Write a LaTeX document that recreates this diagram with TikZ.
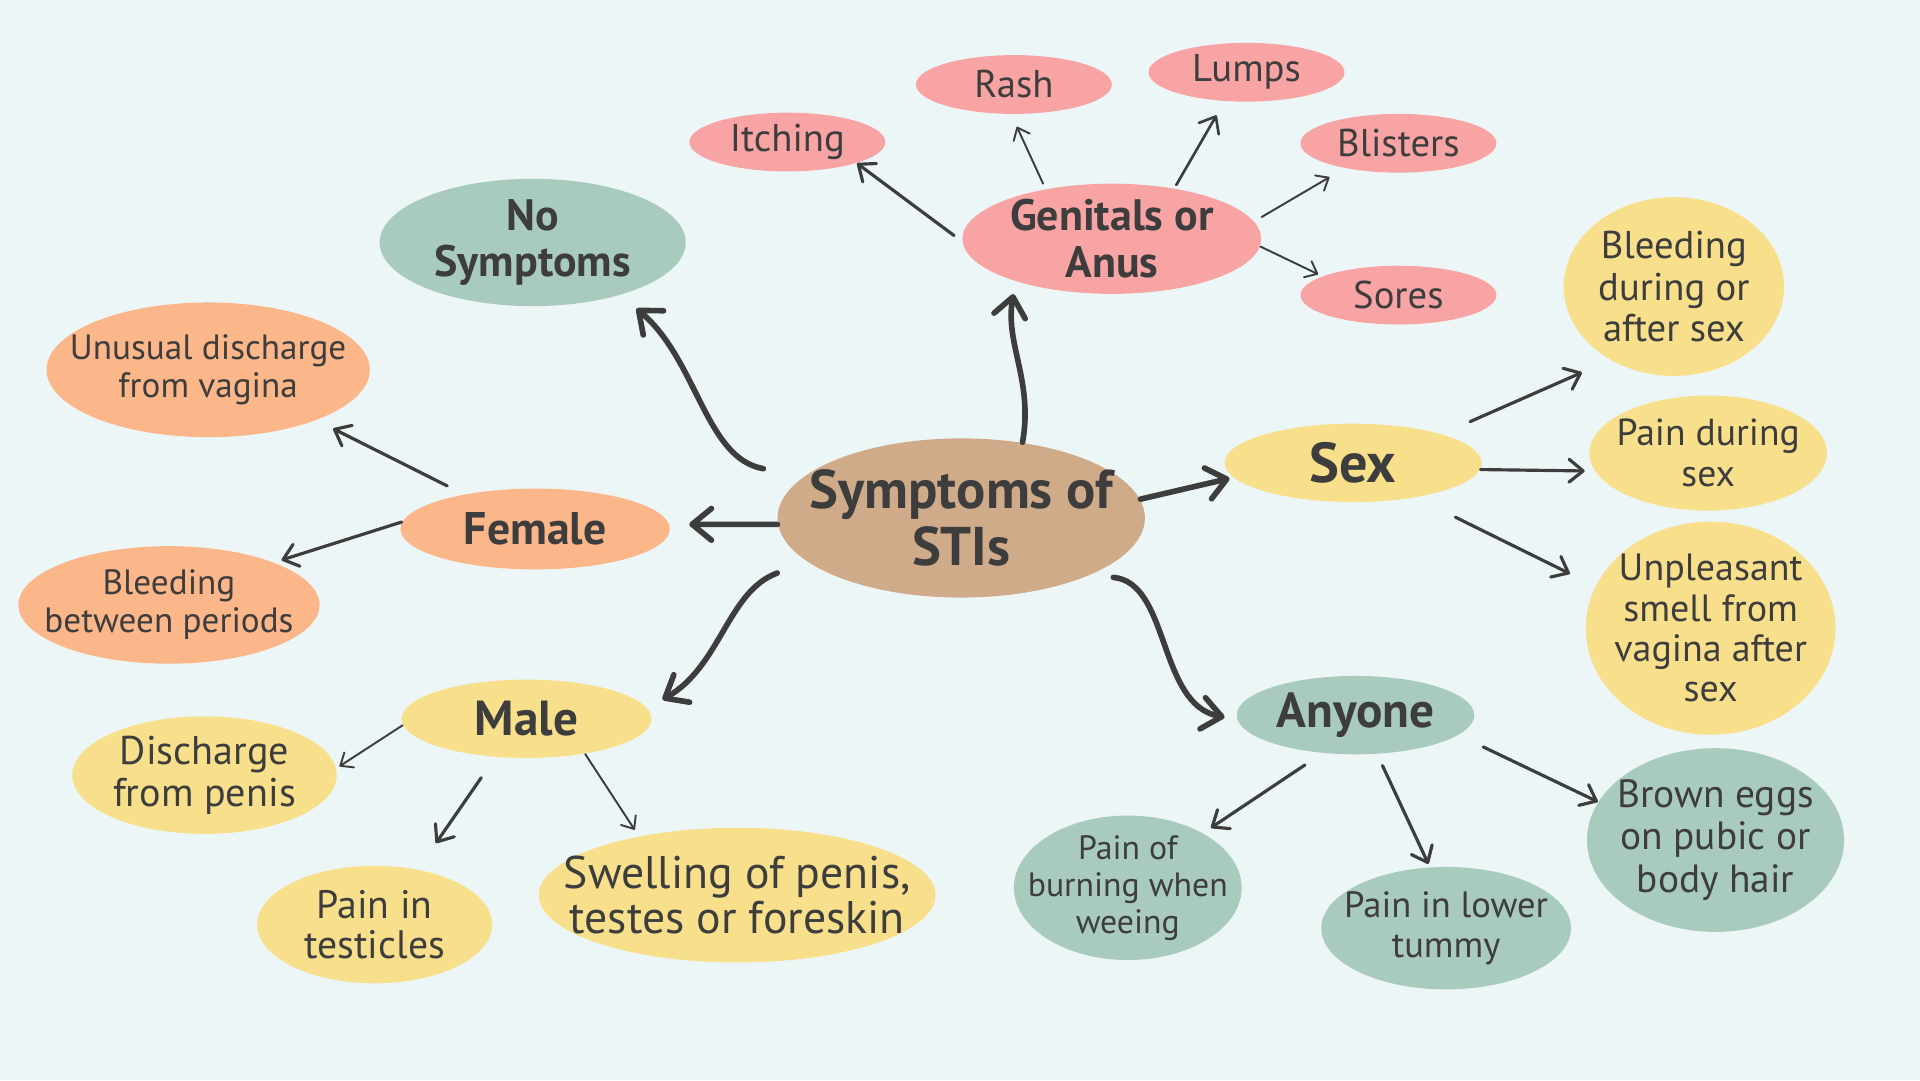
\documentclass[tikz,border=0pt]{standalone}
\usepackage{fontspec}
\setmainfont{PT Sans}
\usetikzlibrary{shapes.geometric,arrows.meta}
\definecolor{bgcol}{HTML}{ECF6F6}
\definecolor{tancol}{HTML}{D0AB8A}
\definecolor{greencol}{HTML}{A9CBBD}
\definecolor{pinkcol}{HTML}{F8A4A5}
\definecolor{yellowcol}{HTML}{F8DF8C}
\definecolor{orangecol}{HTML}{FBB68A}
\definecolor{inkcol}{HTML}{3D3D3D}
\tikzset{blob/.style 2 args={ellipse, inner sep=-2em, align=center, text=inkcol,
  minimum width=#1*0.012245cm, minimum height=#2*0.012245cm}}
\tikzstyle{mainarrow}=[draw=inkcol, line width=1.6pt, line cap=round, -{Straight Barb[length=5.5pt,width=9pt,round]}]
\tikzstyle{leafarrow}=[draw=inkcol, line width=0.9pt, line cap=round, -{Straight Barb[length=4pt,width=6.5pt,round]}]
\tikzstyle{thinarrow}=[draw=inkcol, line width=0.55pt, line cap=round, -{Straight Barb[length=3pt,width=5pt,round]}]
\tikzstyle{hubfont}=[font=\bfseries\fontsize{15.5}{16}\selectfont]
\tikzstyle{catfont}=[font=\bfseries\fontsize{14}{16}\selectfont]
\tikzstyle{subfont}=[font=\bfseries\fontsize{12.5}{13.2}\selectfont]

\begin{document}
\begin{tikzpicture}[x=0.012245cm, y=-0.012245cm]
\fill[bgcol] (0,0) rectangle (1568,882);
\useasboundingbox (0,0) rectangle (1568,882);

\node[blob={300}{130}, fill=tancol, hubfont] (stis) at (785,423) {Symptoms of\\STIs};
\node[blob={250}{104}, fill=greencol, subfont] (nosym) at (435,198) {No\\Symptoms};
\node[blob={244}{90}, fill=pinkcol, subfont] (genit) at (908,195) {Genitals or\\Anus};
\foreach \nm/\x/\y/\txt in {itch/643/116/Itching, rash/828/69/Rash, lumps/1018/59/Lumps,
  blisters/1142/117/Blisters, sores/1142/241/Sores} % pink row
\node[blob={160}{48}, fill=pinkcol, font=\fontsize{11}{12}\selectfont] (\nm) at (\x,\y) {\txt};

% sex
\node[blob={210}{64}, fill=yellowcol, catfont, font=\bfseries\fontsize{16}{18}\selectfont] (sex) at (1105,378) {Sex};
\node[blob={180}{146}, fill=yellowcol, font=\fontsize{11}{11.8}\selectfont] (bleeddur) at (1367,234) {Bleeding\\during or\\after sex};
\node[blob={194}{94}, fill=yellowcol, font=\fontsize{10.7}{11.5}\selectfont] (paindur) at (1395,370) {Pain during\\sex};
\node[blob={204}{174}, fill=yellowcol, font=\fontsize{10.8}{11.5}\selectfont] (smell) at (1397,513) {Unpleasant\\smell from\\vagina after\\sex};

% anyone
\node[blob={194}{64}, fill=greencol, catfont] (anyone) at (1107,584) {Anyone};
\node[blob={186}{118}, fill=greencol, font=\fontsize{9.6}{10.5}\selectfont] (burning) at (921,725) {Pain of\\burning when\\weeing};
\node[blob={204}{100}, fill=greencol, font=\fontsize{10.4}{11.5}\selectfont] (tummy) at (1181,758) {Pain in lower\\tummy};
\node[blob={210}{150}, fill=greencol, font=\fontsize{11.2}{12.2}\selectfont] (eggs) at (1401,686) {Brown eggs\\on pubic or\\body hair};

% female
\node[blob={220}{66}, fill=orangecol, catfont, font=\bfseries\fontsize{13}{15}\selectfont] (female) at (437,432) {Female};
\node[blob={264}{110}, fill=orangecol, font=\fontsize{10}{10.8}\selectfont] (discharge) at (170,302) {Unusual discharge\\from vagina};
\node[blob={246}{96}, fill=orangecol, font=\fontsize{10}{10.8}\selectfont] (bleedbet) at (138,494) {Bleeding\\between periods};

% male
\node[blob={204}{64}, fill=yellowcol, catfont] (male) at (430,587) {Male};
\node[blob={216}{96}, fill=yellowcol, font=\fontsize{11.4}{11.8}\selectfont] (penis) at (167,633) {Discharge\\from penis};
\node[blob={192}{96}, fill=yellowcol, font=\fontsize{11.3}{11.5}\selectfont] (testicles) at (306,755) {Pain in\\testicles};
\node[blob={324}{110}, fill=yellowcol, font=\fontsize{13}{12.9}\selectfont] (swelling) at (602,731) {Swelling of penis,\\testes or foreskin};

% hub to groups
\draw[mainarrow, shorten <=11.8pt, shorten >=5.9pt] (stis.165) to[out=170, in=-40] (nosym.-31);
\draw[mainarrow, shorten >=3.6pt] (stis.51) to[out=80, in=-100] (genit.-156);
\draw[mainarrow, shorten >=5.6pt] (stis.182) -- (female.2);
\draw[mainarrow, shorten <=9.1pt, shorten >=4.9pt] (stis.196) to[out=200, in=30] (male.5);
\draw[mainarrow, shorten >=1pt] (stis.6) -- (sex.187);
\draw[mainarrow, shorten <=6.6pt, shorten >=3.5pt] (stis.-24) to[out=-5, in=170] (anyone.182);

% groups to leaves
\draw[leafarrow, shorten <=2.8pt] (genit.181) -- (itch.-17);
\draw[thinarrow, shorten <=1.6pt, shorten >=3.8pt] (genit.143) -- (rash.-95);
\draw[leafarrow, line width=0.75pt, shorten <=1pt, shorten >=4.5pt] (genit.39) -- (lumps.-127);
\draw[thinarrow, shorten <=2.4pt, shorten >=4.9pt] (genit.7) -- (blisters.-155);
\draw[thinarrow, shorten >=1.2pt] (genit.-3) -- (sores.166);
\draw[leafarrow, shorten <=8.7pt, shorten >=8.7pt] (sex.18) -- (bleeddur.-131);
\draw[leafarrow, shorten >=2.8pt] (sex.-3) -- (paindur.-171);
\draw[leafarrow, shorten <=12.5pt, shorten >=8pt] (sex.-29) -- (smell.160);
\draw[leafarrow, shorten <=5.9pt, shorten >=2.6pt] (anyone.-131) -- (burning.36);
\draw[leafarrow, shorten <=3.5pt, shorten >=0.9pt] (anyone.-61) -- (tummy.105);
\draw[leafarrow, shorten <=7.7pt] (anyone.-11) -- (eggs.162);
\draw[leafarrow, shorten <=5.2pt, shorten >=5.2pt] (female.154) -- (discharge.-25);
\draw[leafarrow, shorten >=2.1pt] (female.177) -- (bleedbet.22);
\draw[thinarrow, shorten >=1pt] (male.183) -- (penis.3);
\draw[leafarrow, shorten <=7pt, shorten >=9pt] (male.-129) -- (testicles.52);
\draw[thinarrow, shorten >=2.1pt] (male.-31) -- (swelling.149);
\end{tikzpicture}
\end{document}
